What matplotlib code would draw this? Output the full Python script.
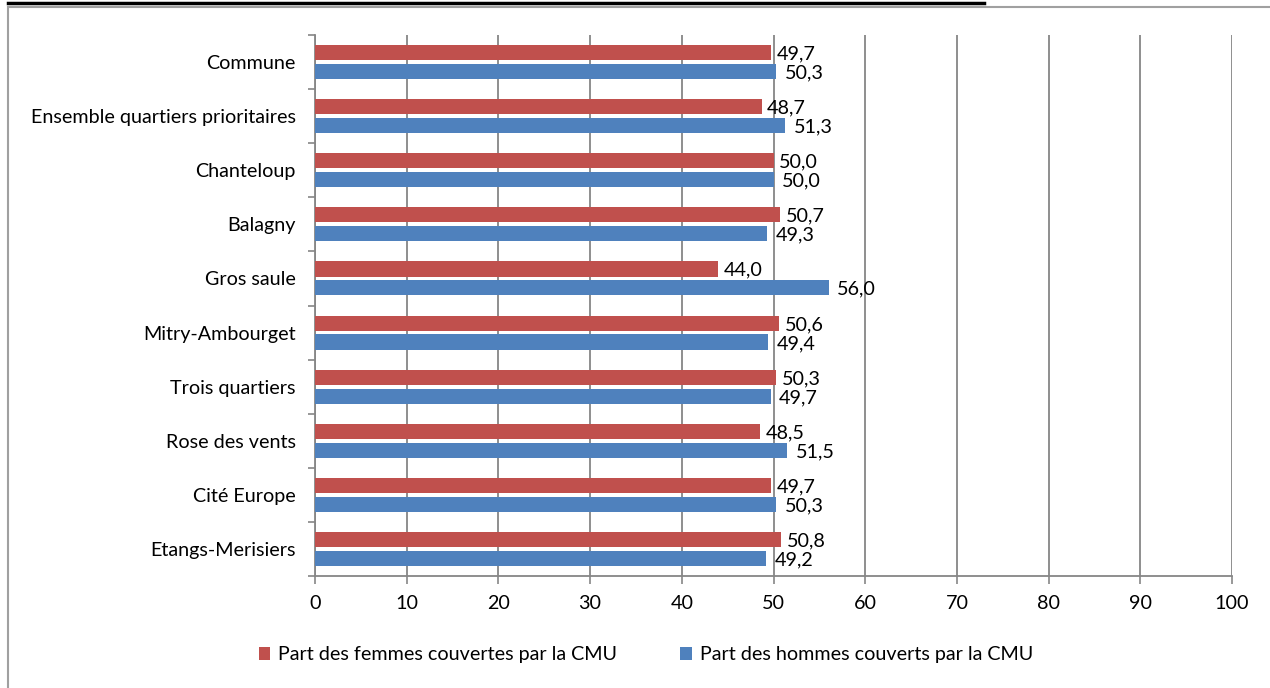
import matplotlib.pyplot as plt
import numpy as np
from matplotlib.lines import Line2D
from matplotlib.patches import Rectangle

plt.rcParams['font.family'] = ['Lato', 'DejaVu Sans']

# quartiers, du bas vers le haut
quartiers = ['Etangs-Merisiers', 'Cité Europe', 'Rose des vents', 'Trois quartiers',
             'Mitry-Ambourget', 'Gros saule', 'Balagny', 'Chanteloup',
             'Ensemble quartiers prioritaires', 'Commune']
femmes = [50.8, 49.7, 48.5, 50.3, 50.6, 44.0, 50.7, 50.0, 48.7, 49.7]
hommes = [49.2, 50.3, 51.5, 49.7, 49.4, 56.0, 49.3, 50.0, 51.3, 50.3]

ROUGE = '#C0504D'
BLEU = '#4F81BD'
GRIS = '#868686'
FS = 14.2

fig = plt.figure(figsize=(12.7, 6.88), dpi=100)
ax = fig.add_axes([315 / 1270, 1 - 576 / 688, (1232 - 315) / 1270, (576 - 35) / 688])

y = np.arange(len(quartiers))
h = 0.28
off = 0.175
ax.barh(y + off, femmes, height=h, color=ROUGE, label='Part des femmes couvertes par la CMU', zorder=3)
ax.barh(y - off, hommes, height=h, color=BLEU, label='Part des hommes couverts par la CMU', zorder=3)

# étiquettes de valeur
for yi, f, m in zip(y, femmes, hommes):
    ax.annotate(f'{f:.1f}'.replace('.', ','), (f, yi + off), xytext=(4, -1),
                textcoords='offset points', va='center', ha='left', fontsize=FS)
    ax.annotate(f'{m:.1f}'.replace('.', ','), (m, yi - off), xytext=(6, -1),
                textcoords='offset points', va='center', ha='left', fontsize=FS)

ax.set_xlim(0, 100)
ax.set_ylim(-0.5, len(quartiers) - 0.5)
ax.set_xticks(range(0, 101, 10))
ax.set_yticks(y)
ax.set_yticklabels(quartiers)
ax.set_yticks(np.arange(-0.5, len(quartiers), 1), minor=True)
ax.tick_params(axis='y', which='major', length=0, pad=14, labelsize=FS)
ax.tick_params(axis='y', which='minor', length=5, width=1.2, color=GRIS, direction='out')
ax.tick_params(axis='x', length=6, width=1.2, color=GRIS, pad=8, labelsize=FS)

ax.grid(axis='x', color=GRIS, linewidth=1.3, zorder=0)
for s in ['top', 'right']:
    ax.spines[s].set_visible(False)
for s in ['left', 'bottom']:
    ax.spines[s].set_color(GRIS)
    ax.spines[s].set_linewidth(1.3)

ax.legend(loc='center', bbox_to_anchor=(0.361, -0.146), ncol=2, frameon=False,
          fontsize=FS, handlelength=0.6, handleheight=0.6, handletextpad=0.4,
          columnspacing=3.2)

# cadre du graphique et soulignement du titre coupé
fig.add_artist(Rectangle((8 / 1270, -0.1), 1.2, 1 - 7 / 688 + 0.1, transform=fig.transFigure,
                         fill=False, edgecolor='#A0A0A0', linewidth=1.5))
fig.add_artist(Line2D([8 / 1270, 984 / 1270], [1 - 3 / 688, 1 - 3 / 688],
                      transform=fig.transFigure, color='black', linewidth=2.5))

fig.savefig('out.png', dpi=100)
